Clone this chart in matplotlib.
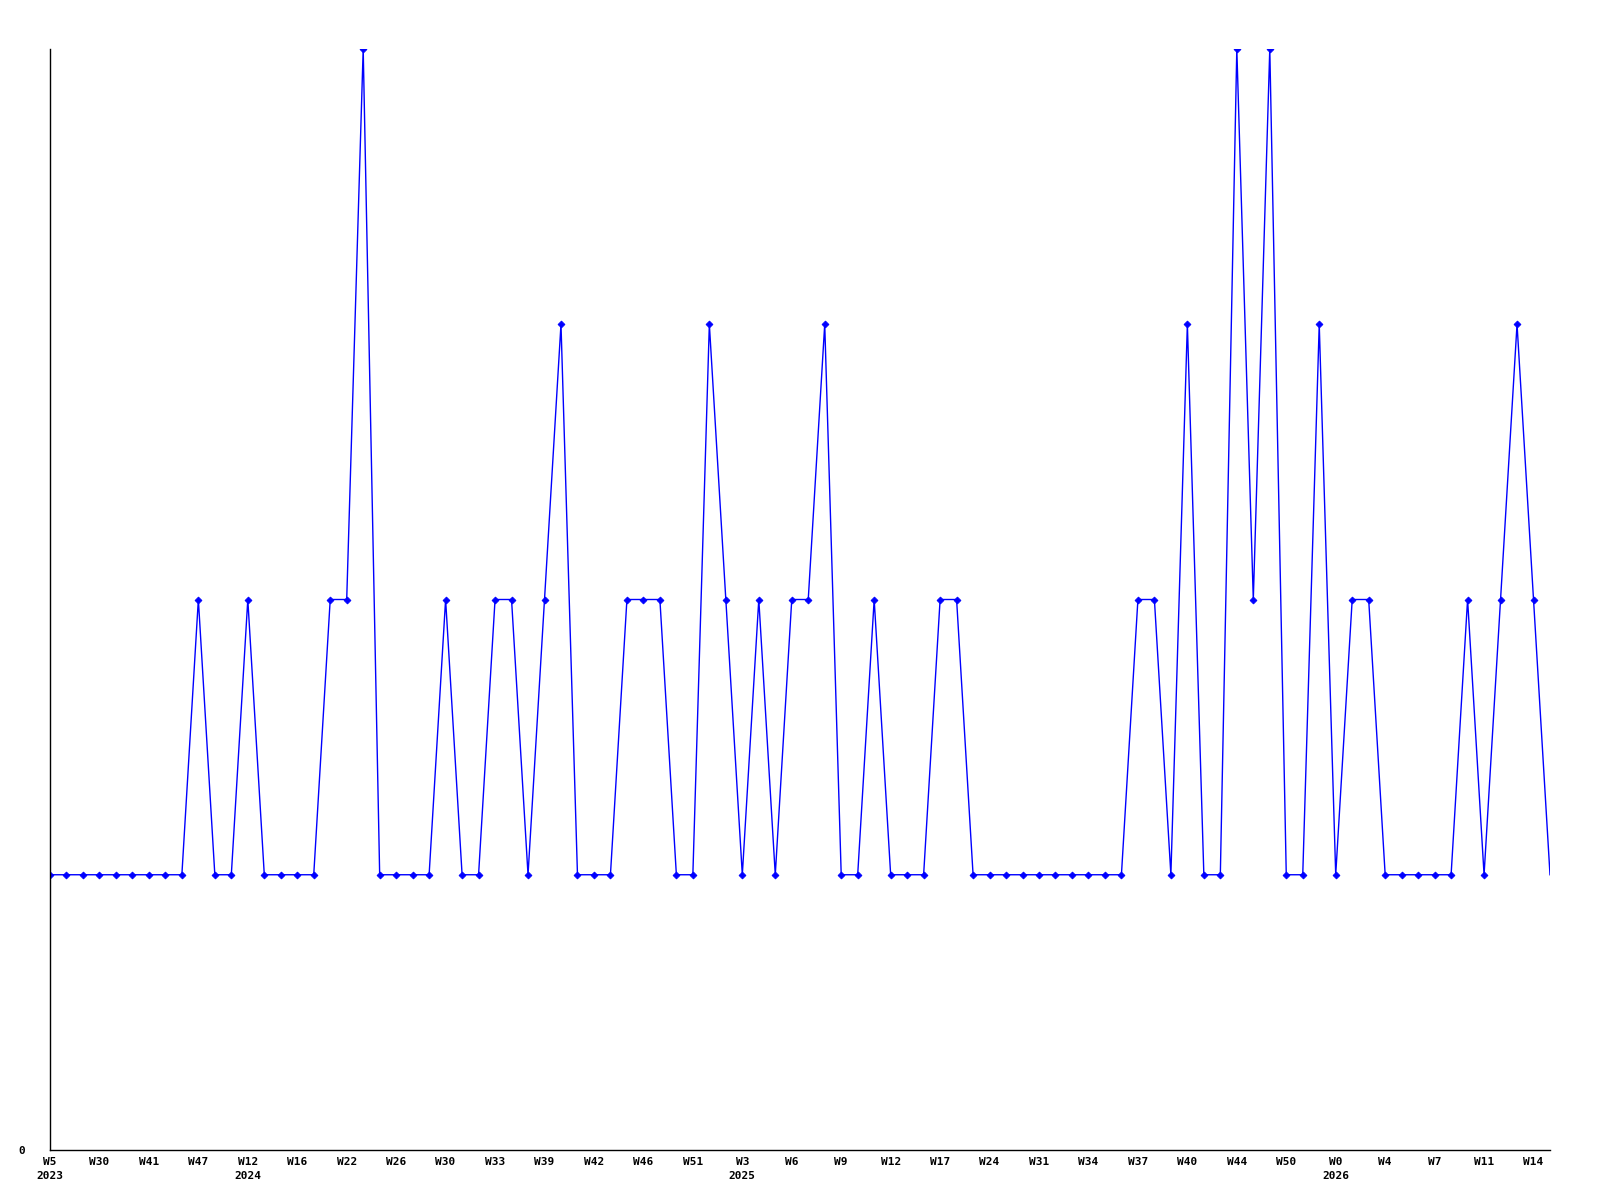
import numpy as np
import matplotlib
matplotlib.use("Agg")
import matplotlib.pyplot as plt

# weekly counts, one point per week entry
values = [
    1, 1, 1, 1, 1, 1, 1, 1, 1, 2,
    1, 1, 2, 1, 1, 1, 1, 2, 2, 4,
    1, 1, 1, 1, 2, 1, 1, 2, 2, 1,
    2, 3, 1, 1, 1, 2, 2, 2, 1, 1,
    3, 2, 1, 2, 1, 2, 2, 3, 1, 1,
    2, 1, 1, 1, 2, 2, 1, 1, 1, 1,
    1, 1, 1, 1, 1, 1, 2, 2, 1, 3,
    1, 1, 4, 2, 4, 1, 1, 3, 1, 2,
    2, 1, 1, 1, 1, 1, 2, 1, 2, 3,
    2, 1,
]

# labels shown on every third point
week_labels = [
    "W5", "W30", "W41", "W47", "W12", "W16", "W22", "W26", "W30", "W33",
    "W39", "W42", "W46", "W51", "W3", "W6", "W9", "W12", "W17", "W24",
    "W31", "W34", "W37", "W40", "W44", "W50", "W0", "W4", "W7", "W11",
    "W14",
]
# year shown under the first label of each year (index into week_labels)
year_labels = {0: "2023", 4: "2024", 14: "2025", 26: "2026"}

x = np.arange(len(values))
tick_pos = x[::3][:len(week_labels)]
tick_text = [
    f"{w}\n{year_labels[i]}" if i in year_labels else w
    for i, w in enumerate(week_labels)
]

fig = plt.figure(figsize=(16, 12), dpi=100)
ax = fig.add_axes([50 / 1600, 50 / 1200, 1500 / 1600, 1101 / 1200])

# last point is drawn without a marker, as in the source chart
ax.plot(x, values, color="#0000FF", linewidth=1.0, marker="D", markersize=3.5,
        markeredgewidth=0.6, markevery=list(range(len(values) - 1)))

ax.set_xlim(0, len(values) - 1)
ax.set_ylim(0, 4)

for side in ("top", "right"):
    ax.spines[side].set_visible(False)
for side in ("left", "bottom"):
    ax.spines[side].set_linewidth(1.0)
    ax.spines[side].set_color("black")

font = dict(family="DejaVu Sans Mono", weight="bold", size=8)

ax.set_xticks(tick_pos)
ax.set_xticklabels(tick_text, linespacing=1.45, va="top", **font)
ax.tick_params(axis="x", length=0, pad=5)

ax.set_yticks([0])
ax.set_yticklabels(["0"], **font)
ax.tick_params(axis="y", length=0, pad=18)

fig.savefig("out.png", dpi=100, facecolor="white")
